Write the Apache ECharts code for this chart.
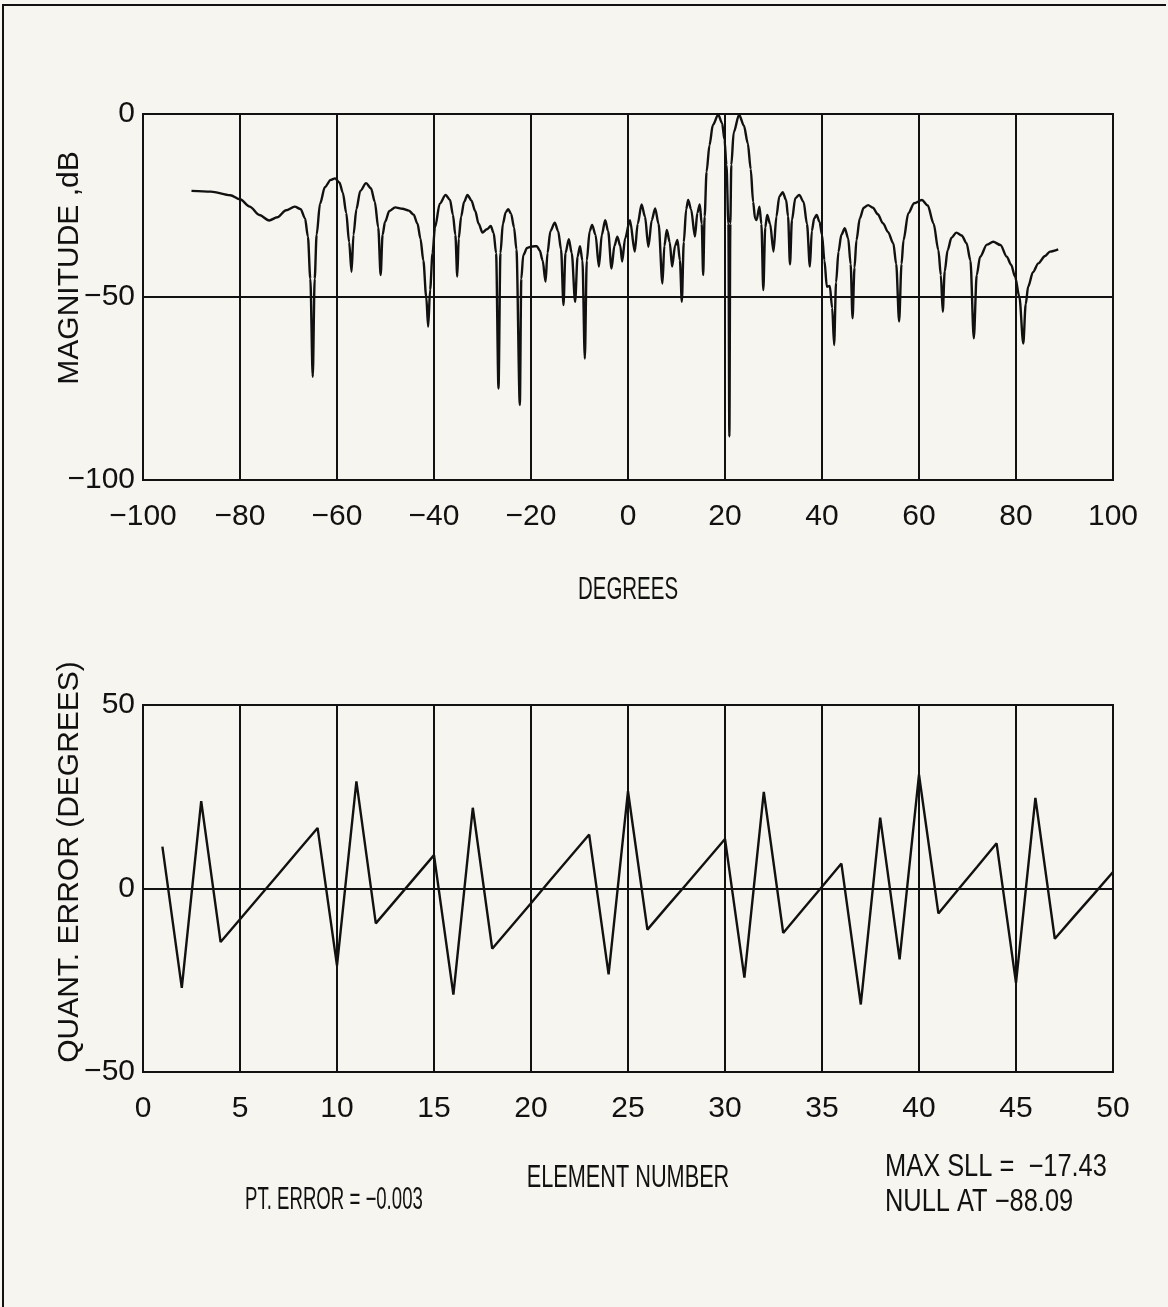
<!DOCTYPE html>
<html><head><meta charset="utf-8">
<script src="https://cdn.jsdelivr.net/npm/echarts@6/dist/echarts.min.js"></script>
<style>html,body{margin:0;padding:0;background:#f6f5ef}#c{width:1168px;height:1307px}</style>
</head><body><div id="c"></div>
<script>
// ---- Top plot: array pattern (angle in degrees, magnitude in dB) ----
const patternDeg = [
  -90, -86, -82, -80, -78, -76, -74, -72.3, -70.5, -68.7, -67.5, -66.6, -66.0, -65.5, -65.0, -64.6, -64.2,
  -63.5, -62.5, -61.3, -60.4, -59.5, -58.8, -58.1, -57.5, -57.0, -56.6, -56.0, -55.2, -54.0, -53.0, -52.2,
  -51.5, -51.0, -50.6, -50.1, -49.2, -48.0, -46.5, -45.2, -44.2, -43.4, -42.8, -42.2, -41.6, -41.2, -40.8,
  -40.3, -39.8, -38.8, -37.6, -36.7, -36.1, -35.6, -35.2, -34.9, -34.4, -33.8, -33.1, -32.3, -31.5, -30.8,
  -30.0, -29.1, -28.3, -27.7, -27.2, -26.7, -26.3, -25.8, -25.2, -24.7, -24.1, -23.5, -23.0, -22.3, -22.0,
  -21.6, -20.8, -19.8, -18.8, -18.2, -17.6, -17.0, -16.6, -16.0, -15.1, -14.4, -13.8, -13.3, -12.9, -12.2,
  -11.6, -10.9, -10.4, -9.9, -9.4, -8.9, -8.5, -7.9, -7.4, -6.7, -6.0, -5.4, -4.7, -4.1, -3.4, -2.8, -2.2,
  -1.6, -1.2, -0.6, 0.4, 1.4, 2.0, 2.8, 3.5, 4.2, 4.9, 5.6, 6.3, 7.1, 7.5, 8.0, 8.6, 9.1, 9.7, 10.2, 10.7,
  11.1, 11.5, 12.0, 12.4, 13.0, 13.8, 14.3, 14.8, 15.2, 15.5, 15.8, 16.2, 16.8, 17.5, 18.6, 19.4, 19.9,
  20.3, 20.7, 20.9, 21.1, 21.3, 21.8, 22.9, 23.9, 24.7, 25.3, 25.8, 26.2, 26.5, 27.1, 27.5, 27.9, 28.3,
  28.7, 29.3, 30.0, 30.6, 31.2, 31.9, 32.6, 33.0, 33.4, 33.8, 34.5, 35.3, 36.2, 36.9, 37.5, 37.9, 38.4,
  38.9, 39.5, 40.0, 40.5, 41.0, 41.6, 42.1, 42.5, 42.9, 43.4, 44.0, 44.7, 45.4, 45.9, 46.3, 46.7, 47.1,
  47.8, 48.6, 49.5, 50.5, 51.5, 52.6, 53.6, 54.7, 55.3, 55.9, 56.4, 56.8, 57.8, 59.0, 60.6, 61.8, 63.0,
  64.0, 64.5, 64.9, 65.3, 65.9, 66.7, 67.7, 68.8, 69.8, 70.6, 71.3, 71.9, 72.6, 74.0, 75.3, 76.8, 78.1,
  79.0, 79.8, 80.7, 81.5, 82.0, 82.5, 83.5, 84.6, 86.0, 87.0, 88.7
];
const patternDb = [
  -21.0, -21.2, -22.2, -23.3, -25.3, -27.6, -29.1, -28.2, -26.3, -25.3, -26.0, -28.5, -33.5, -45.0, -71.8, -45.0, -33.0,
  -24.5, -20.0, -18.0, -17.6, -18.7, -21.5, -27.0, -35.0, -43.1, -33.0, -26.0, -21.0, -18.9, -20.3, -24.0,
  -31.0, -44.0, -33.0, -29.5, -26.5, -25.5, -25.9, -26.4, -27.5, -30.0, -34.0, -40.0, -50.0, -58.1, -48.0,
  -38.0, -31.0, -24.5, -22.1, -23.5, -27.5, -33.0, -44.4, -34.0, -28.0, -24.0, -22.1, -23.6, -26.5, -30.0,
  -32.4, -31.5, -30.6, -32.5, -38.0, -75.0, -38.0, -30.0, -26.8, -26.0, -27.3, -31.0, -37.0, -79.5, -45.0,
  -38.6, -36.6, -36.2, -36.1, -37.3, -40.0, -45.8, -38.0, -32.0, -29.7, -32.0, -37.0, -52.2, -38.0, -34.2,
  -38.0, -51.3, -39.0, -36.1, -40.0, -66.8, -40.0, -32.0, -30.3, -33.0, -41.7, -33.0, -29.0, -32.0, -42.2, -36.0, -33.5,
  -36.0, -40.3, -34.0, -29.0, -37.6, -30.0, -24.7, -28.0, -36.3, -29.0, -25.8, -30.0, -46.3, -36.0, -31.7, -35.0, -41.7, -36.0, -34.4, -40.0,
  -51.3, -35.0, -26.0, -23.5, -26.0, -33.5, -27.0, -24.7, -30.0, -44.0, -28.0, -15.8, -8.5, -3.0, -0.2, -2.5, -7.0,
  -13.9, -30.0, -88.1, -30.0, -13.9, -5.0, -0.2, -3.2, -8.0, -15.0, -24.0, -28.5, -29.0, -25.3, -30.0, -48.1, -31.0,
  -27.6, -30.0, -37.6, -28.0, -22.5, -21.4, -23.5, -28.0, -41.1, -29.0, -23.0, -22.1, -24.0, -30.0, -41.7, -32.0, -28.5,
  -27.6, -29.5, -33.0, -40.0, -47.2, -47.0, -53.0, -63.1, -46.0, -37.6, -33.0, -31.2, -34.0, -41.0, -55.8, -42.0, -34.5,
  -28.5, -25.6, -24.9, -25.6, -27.4, -29.9, -32.2, -35.3, -41.0, -56.7, -41.0, -34.5, -27.1, -24.4, -23.5, -25.0, -29.9,
  -37.2, -44.0, -54.0, -43.0, -37.2, -33.8, -32.4, -33.2, -35.3, -40.0, -61.3, -44.0, -39.0, -35.7, -34.9, -35.8, -39.0,
  -41.2, -44.4, -50.0, -62.7, -52.0, -47.2, -43.2, -40.8, -38.8, -37.6, -37.0
];

// ---- Bottom plot: quantization error per element ----
const elementNo = [1,2,3,4,5,6,7,8,9,10,11,12,13,14,15,16,17,18,19,20,21,22,23,24,25,
                   26,27,28,29,30,31,32,33,34,35,36,37,38,39,40,41,42,43,44,45,46,47,48,49,50];
const quantError = [
  11.4, -27.1, 23.8, -14.6, -8.4, -2.2, 4.0, 10.3, 16.5, -21.0,
  29.2, -9.5, -3.3, 2.9, 9.1, -28.9, 22.0, -16.4, -10.2, -4.0,
  2.3, 8.5, 14.7, -23.4, 26.5, -11.2, -5.0, 1.1, 7.3, 13.5,
  -24.3, 26.3, -12.1, -5.8, 0.5, 6.8, -31.6, 19.3, -19.3, 31.0,
  -6.8, -0.4, 5.9, 12.3, -25.7, 24.7, -13.7, -7.6, -1.6, 4.5
];

// ---- Axis ranges and texts ----
const topXTicks = {min: -100, max: 100, step: 20};
const topYTicks = {min: -100, max: 0, step: 50};
const botXTicks = {min: 0, max: 50, step: 5};
const botYTicks = {min: -50, max: 50, step: 50};
const topYName = 'MAGNITUDE ,dB';
const topXName = 'DEGREES';
const botYName = 'QUANT. ERROR (DEGREES)';
const botXName = 'ELEMENT NUMBER';
const noteLeft = 'PT. ERROR = \u22120.003';
const noteRight1 = 'MAX SLL =  \u221217.43';
const noteRight2 = 'NULL AT \u221288.09';

const INK = '#111';
const SANS = '"Liberation Sans", Arial, sans-serif';
const minus = v => String(v).replace('-', '\u2212');

function xAxisCfg(gi, t) {
  return {
    gridIndex: gi, type: 'value', min: t.min, max: t.max, interval: t.step,
    axisLine: {show: false}, axisTick: {show: false},
    splitLine: {show: true, lineStyle: {color: INK, width: 2}},
    axisLabel: {margin: 22, fontFamily: SANS, fontSize: 30, color: INK, formatter: minus}
  };
}
function yAxisCfg(gi, t) {
  return {
    gridIndex: gi, type: 'value', min: t.min, max: t.max, interval: t.step,
    axisLine: {show: false}, axisTick: {show: false},
    splitLine: {show: true, lineStyle: {color: INK, width: 2}},
    axisLabel: {margin: 8, fontFamily: SANS, fontSize: 30, color: INK, formatter: minus}
  };
}
function label(text, x, y, size, sx, align, rot) {
  return {type: 'text', x: x, y: y, rotation: rot || 0, scaleX: sx,
    style: {text: text, font: size + 'px ' + SANS, fill: INK, align: align, verticalAlign: 'middle'}};
}

const chart = echarts.init(document.getElementById('c'), null, {renderer: 'canvas'});
chart.setOption({
  backgroundColor: '#f6f5ef',
  animation: false,
  grid: [
    {left: 143, top: 114, width: 970, height: 366, show: true, borderColor: INK, borderWidth: 2, backgroundColor: 'transparent'},
    {left: 143, top: 705, width: 970, height: 367, show: true, borderColor: INK, borderWidth: 2, backgroundColor: 'transparent'}
  ],
  xAxis: [xAxisCfg(0, topXTicks), xAxisCfg(1, botXTicks)],
  yAxis: [yAxisCfg(0, topYTicks), yAxisCfg(1, botYTicks)],
  series: [
    {
      type: 'line', xAxisIndex: 0, yAxisIndex: 0,
      data: patternDeg.map((d, i) => [d, patternDb[i]]),
      showSymbol: false, smooth: 0.3, smoothMonotone: 'x',
      lineStyle: {color: INK, width: 2.4}
    },
    {
      type: 'line', xAxisIndex: 1, yAxisIndex: 1,
      data: elementNo.map((n, i) => [n, quantError[i]]),
      showSymbol: false, smooth: false,
      lineStyle: {color: INK, width: 2.4}
    }
  ],
  graphic: [
    {type: 'polyline', shape: {points: [[3, 1307], [3, 5], [1166, 5]]}, style: {stroke: INK, lineWidth: 2, fill: null}},
    label(topYName, 70, 268, 30, 1, 'center', Math.PI / 2),
    label(botYName, 70, 862, 30, 1, 'center', Math.PI / 2),
    label(topXName, 628, 590, 31, 0.66, 'center'),
    label(botXName, 628, 1178, 31, 0.70, 'center'),
    label(noteLeft, 245, 1200, 31, 0.6, 'left'),
    label(noteRight1, 885, 1167, 31, 0.82, 'left'),
    label(noteRight2, 885, 1202, 31, 0.82, 'left')
  ]
});
</script></body></html>
